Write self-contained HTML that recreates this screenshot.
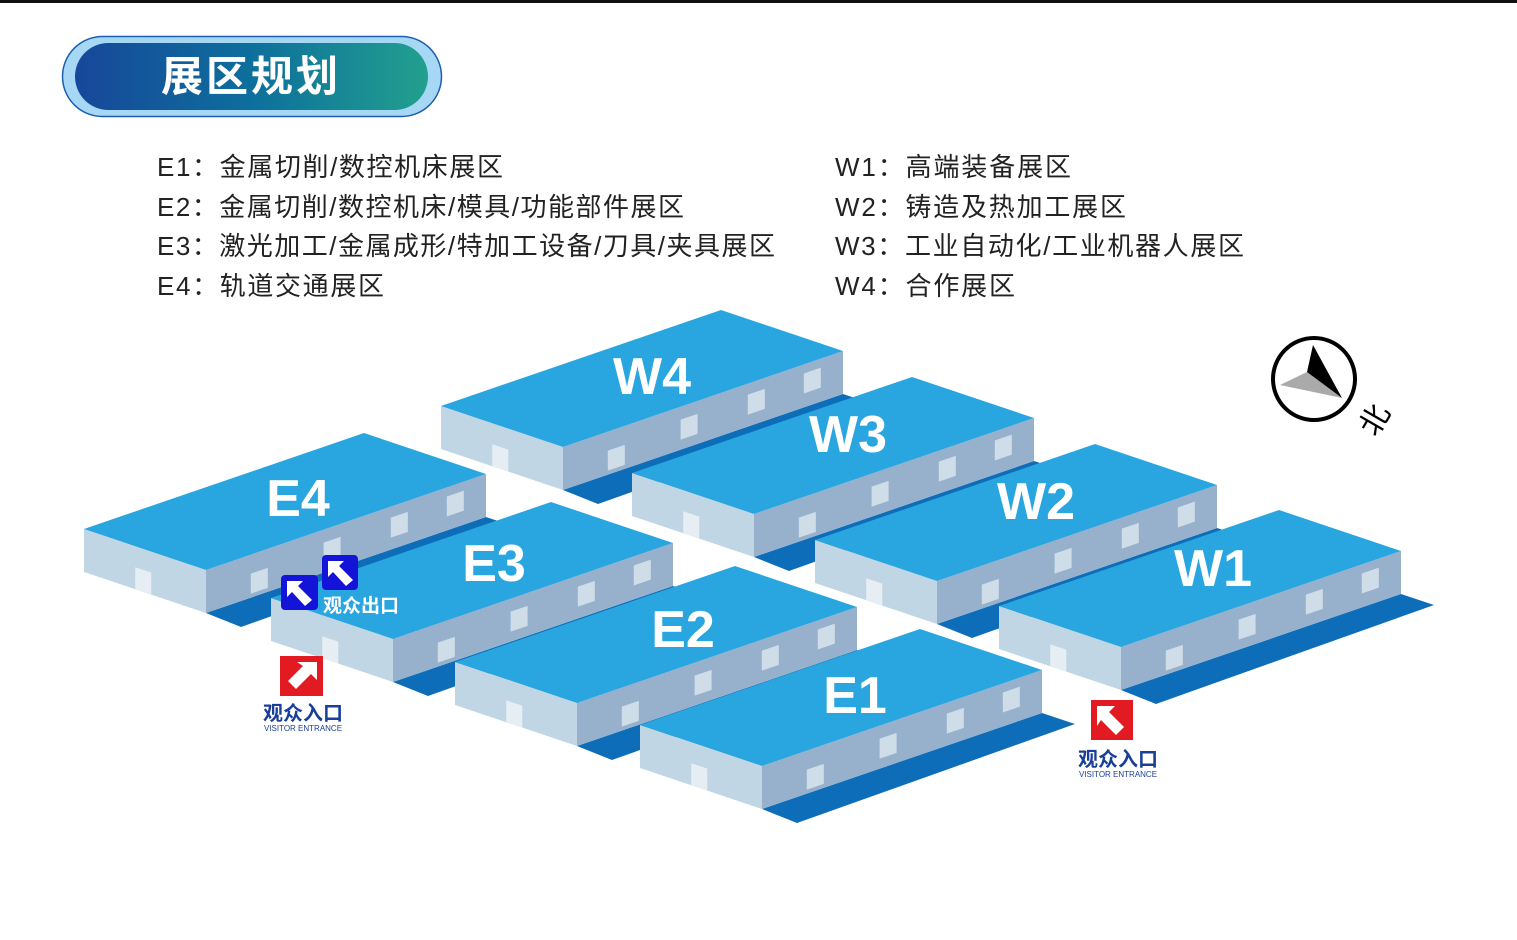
<!DOCTYPE html>
<html><head><meta charset="utf-8"><style>
html,body{margin:0;padding:0;background:#fff;}
svg{display:block;}
.cn{font-family:"Liberation Sans","Noto Sans CJK SC",sans-serif;}
</style></head><body>
<svg id="s" width="1517" height="940" viewBox="0 0 1517 940" xmlns="http://www.w3.org/2000/svg">
<defs>
<linearGradient id="g" x1="0" x2="1" y1="0" y2="0">
<stop offset="0" stop-color="#17479a"/><stop offset="0.5" stop-color="#0d6f9c"/><stop offset="1" stop-color="#22a08e"/>
</linearGradient>
</defs>
<rect x="0" y="0" width="1517" height="3" fill="#111"/>
<rect x="62.5" y="36.5" width="379" height="80" rx="40" fill="#a6d8f5" stroke="#1d5fae" stroke-width="1.5"/>
<rect x="75" y="43" width="353" height="67" rx="33.5" fill="url(#g)"/>
<text x="251" y="91" text-anchor="middle" class="cn" font-size="42" font-weight="bold" fill="#fff" letter-spacing="3">展区规划</text>

<g class="cn" font-size="26" fill="#222">
<text x="157" y="176" textLength="346" lengthAdjust="spacing">E1：金属切削/数控机床展区</text>
<text x="157" y="216" textLength="527" lengthAdjust="spacing">E2：金属切削/数控机床/模具/功能部件展区</text>
<text x="157" y="255" textLength="618" lengthAdjust="spacing">E3：激光加工/金属成形/特加工设备/刀具/夹具展区</text>
<text x="157" y="295" textLength="227" lengthAdjust="spacing">E4：轨道交通展区</text>
<text x="835" y="176" textLength="236" lengthAdjust="spacing">W1：高端装备展区</text>
<text x="835" y="216" textLength="291" lengthAdjust="spacing">W2：铸造及热加工展区</text>
<text x="835" y="255" textLength="409" lengthAdjust="spacing">W3：工业自动化/工业机器人展区</text>
<text x="835" y="295" textLength="180" lengthAdjust="spacing">W4：合作展区</text>
</g>

<g id="bld"></g>

<g class="cn" font-size="52" font-weight="bold" fill="#fff" text-anchor="middle">
<text x="652" y="394">W4</text>
<text x="848" y="452">W3</text>
<text x="298" y="516">E4</text>
<text x="1036" y="519">W2</text>
<text x="494" y="581">E3</text>
<text x="1213" y="586">W1</text>
<text x="683" y="647">E2</text>
<text x="855" y="713">E1</text>
</g>

<g>
<rect x="281" y="575" width="37" height="35" rx="4" fill="#1414d8"/>
<polygon points="287,581 303,581 298,586 312,600 305,606 292,592 287,597" fill="#fff"/>
<rect x="322" y="555" width="36" height="35" rx="4" fill="#1414d8"/>
<polygon points="328,561 344,561 339,566 353,580 346,586 333,572 328,577" fill="#fff"/>
<text x="323" y="612" class="cn" font-size="19" font-weight="bold" fill="#fff">观众出口</text>
</g>
<g>
<rect x="280" y="656" width="43" height="40" fill="#e21a22"/>
<polygon points="317,662 317,680 311,674 296,689 288,681 303,666 297,662" fill="#fff"/>
<text x="303" y="720" text-anchor="middle" class="cn" font-size="20" font-weight="bold" fill="#1a3f97">观众入口</text>
<text x="303" y="731" text-anchor="middle" font-family="Liberation Sans" font-size="8" fill="#1a3f97">VISITOR ENTRANCE</text>
<rect x="1091" y="700" width="42" height="40" fill="#e21a22"/>
<polygon points="1097,706 1115,706 1109,712 1124,727 1116,735 1101,720 1097,726" fill="#fff"/>
<text x="1118" y="766" text-anchor="middle" class="cn" font-size="20" font-weight="bold" fill="#1a3f97">观众入口</text>
<text x="1118" y="777" text-anchor="middle" font-family="Liberation Sans" font-size="8" fill="#1a3f97">VISITOR ENTRANCE</text>
</g>
<g>
<circle cx="1314" cy="379" r="41" fill="none" stroke="#000" stroke-width="4"/>
<polygon points="1280,385 1307,372 1342,398" fill="#aaa"/>
<polygon points="1313,345 1342,398 1307,372" fill="#000"/>
<text x="0" y="0" class="cn" font-size="30" fill="#000" text-anchor="middle" transform="translate(1375,420) rotate(-60) translate(0,10)">北</text>
</g>
</svg>
<script>
(function(){
var g=document.getElementById('bld');var ns='http://www.w3.org/2000/svg';
function poly(pts,fill){var p=document.createElementNS(ns,'polygon');p.setAttribute('points',pts.map(function(a){return a[0]+','+a[1]}).join(' '));p.setAttribute('fill',fill);g.appendChild(p);}
var Ls=[[441,406],[632,473],[84,529],[815,540],[271,598],[999,606],[455,662],[640,725]];
var H=43;
Ls.forEach(function(L){
var x=L[0],y=L[1];
var F=[x+122,y+41],R=[x+402,y-55],B=[x+280,y-96];
var Fb=[F[0],F[1]+H],Rb=[R[0],R[1]+H],Lb=[x,y+H];
poly([Fb,[Fb[0]+35,Fb[1]+14],[Rb[0]+33,Rb[1]+11],Rb],'#0e6db8');
poly([L,F,Fb,Lb],'#c0d6e4');
poly([F,R,Rb,Fb],'#97b1cd');
poly([L,B,R,F],'#29a6e0');
var t=0.42,wx=x+122*t,wy=y+41*t+H;
poly([[wx,wy-22],[wx+16,wy-22+5.4],[wx+16,wy+5.4],[wx,wy]],'#e6eef4');
[0.16,0.42,0.66,0.86].forEach(function(t,i){
var bx=F[0]+280*t,by=F[1]-96*t+H-(i==0?4:8+i*2);
poly([[bx,by-20],[bx+17,by-20-5.8],[bx+17,by-5.8],[bx,by]],'#cfdde8');
});
});
})();
</script>
</body></html>
